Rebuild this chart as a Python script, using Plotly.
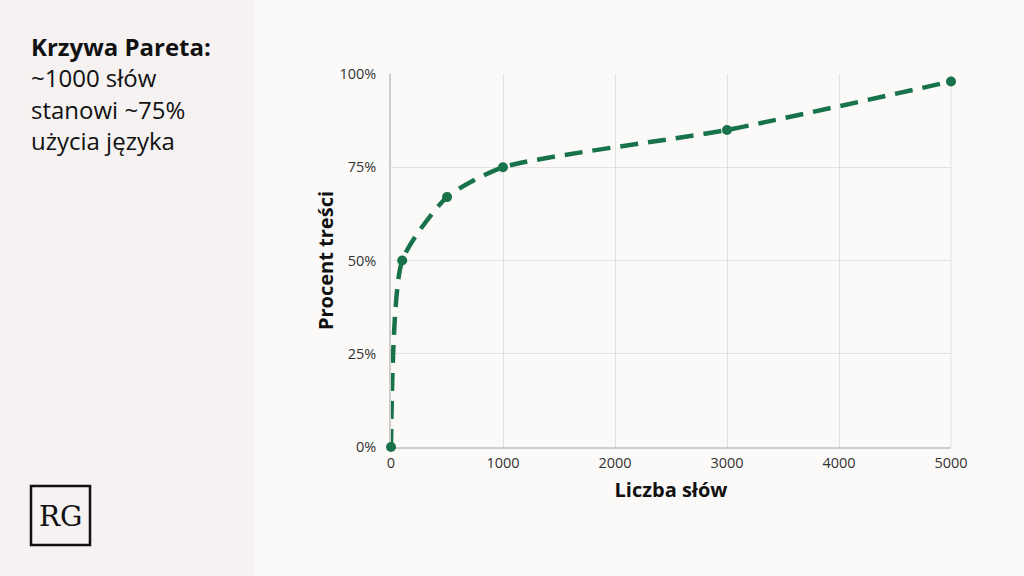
import plotly.graph_objects as go

words = [0, 100, 500, 1000, 3000, 5000]
share = [0, 50, 67, 75, 85, 98]
x_ticks = [0, 1000, 2000, 3000, 4000, 5000]
y_ticks = [0, 25, 50, 75, 100]
y_tick_labels = ["0%", "25%", "50%", "75%", "100%"]
title_lines = ["~1000 słów", "stanowi ~75%", "użycia języka"]

W, H = 1024, 576
GREEN = "#18734a"
FONT = "Open Sans"

fig = go.Figure()
fig.add_trace(go.Scatter(
    x=words, y=share, mode="lines+markers",
    line=dict(color=GREEN, width=4.5, dash="18px,10px", shape="spline", smoothing=0.6),
    marker=dict(color=GREEN, size=10),
    cliponaxis=False,
    showlegend=False, hoverinfo="skip",
))

x0, x1 = 391, 951
y0, y1 = 447, 74

fig.update_layout(
    width=W, height=H,
    margin=dict(l=0, r=0, t=0, b=0, pad=0),
    paper_bgcolor="#fbfaf9",
    plot_bgcolor="#fbfaf9",
    font=dict(family=FONT, color="#222"),
    xaxis=dict(
        domain=[x0 / W, x1 / W], range=[0, 5000], tickvals=x_ticks,
        automargin=False, layer="below traces",
        showgrid=True, gridcolor="#e3e1df", gridwidth=1,
        showline=True, linecolor="#cfcdcb", linewidth=1.5,
        zeroline=False, ticks="", tickfont=dict(size=14.5, color="#333"),
        ticklabelstandoff=2,
        title=dict(text="<b>Liczba słów</b>", font=dict(size=20, color="#111"), standoff=12),
        fixedrange=True,
    ),
    yaxis=dict(
        domain=[1 - y0 / H, 1 - y1 / H], range=[0, 100], tickvals=y_ticks,
        ticktext=y_tick_labels, automargin=False, layer="below traces",
        showgrid=True, gridcolor="#e3e1df", gridwidth=1,
        showline=True, linecolor="#cfcdcb", linewidth=1.5,
        zeroline=False, ticks="", tickfont=dict(size=14.5, color="#333"),
        ticklabelstandoff=10,
        title=dict(text="<b>Procent treści</b>", font=dict(size=20, color="#111"), standoff=0),
        fixedrange=True,
    ),
    shapes=[
        dict(type="rect", xref="paper", yref="paper", x0=0, x1=255 / W, y0=0, y1=1,
             fillcolor="#f5f2f1", line=dict(width=0), layer="below"),
        dict(type="rect", xref="paper", yref="paper", x0=31 / W, x1=90 / W,
             y0=1 - 545 / H, y1=1 - 486 / H, fillcolor="rgba(0,0,0,0)",
             line=dict(color="#111", width=2.5)),
        dict(type="line", xref="paper", yref="paper", x0=x1 / W, x1=x1 / W,
             y0=1 - y0 / H, y1=1 - y1 / H, line=dict(color="#e3e1df", width=1),
             layer="below"),
    ],
)

annotations = [
    dict(text="<b>Krzywa Pareta:</b>", x=29 / W, y=1 - 47 / H),
]
for i, t in enumerate(title_lines):
    annotations.append(dict(text=t, x=29 / W, y=1 - (78 + 31 * i) / H))
for a in annotations:
    a.update(xref="paper", yref="paper", xanchor="left", yanchor="middle",
             showarrow=False, font=dict(size=24, color="#111", family=FONT))
annotations.append(dict(text="RG", x=60.5 / W, y=1 - 516 / H, xref="paper", yref="paper",
                        xanchor="center", yanchor="middle", showarrow=False,
                        font=dict(size=28, color="#111", family="DejaVu Serif")))
fig.update_layout(annotations=annotations)

fig.write_html(
    "out.html",
    config={"displayModeBar": False},
    post_script="document.body.style.margin='0';document.body.style.padding='0';"
                "document.documentElement.style.overflow='hidden';",
)
